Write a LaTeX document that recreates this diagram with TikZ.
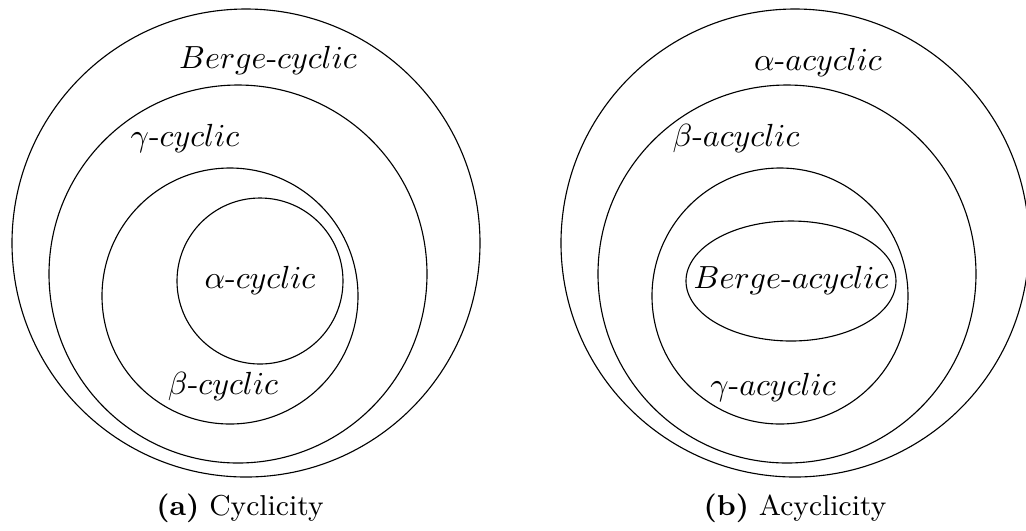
\documentclass[tikz,border=0pt]{standalone}
\usepackage{amsmath}
\usetikzlibrary{positioning}

\begin{document}
\begin{tikzpicture}[
  x=0.3125pt, y=-0.3125pt,
  set/.style={draw, line width=0.35pt},
  lbl/.style={inner sep=0pt, font=\normalsize},
  capt/.style={inner sep=0pt, font=\small}
]
\useasboundingbox (0,0) rectangle (1026,530);

% (a) cyclicity
\draw[set] (246,243) circle[radius=234];
\draw[set] (238,274) circle[radius=189];
\draw[set] (230,296) circle[radius=128];
\draw[set] (260,281) circle[radius=83];
\node[lbl] (bergec) at (268,60) {$Berge$-$cyclic$};
\node[lbl] (gammac) at (185,138) {$\gamma$-$cyclic$};
\node[lbl] (alphac) at (260,280) {$\alpha$-$cyclic$};
\node[lbl] (betac) at (223,386) {$\beta$-$cyclic$};
\node[capt] (capa) at (240,508) {\textbf{(a)} Cyclicity};

% (b) acyclicity
\draw[set] (795,243) circle[radius=234];
\draw[set] (787,274) circle[radius=189];
\draw[set] (780,296) circle[radius=128];
\draw[set] (791,281) circle[x radius=105, y radius=60];
\node[lbl] (alphaa) at (818,62) {$\alpha$-$acyclic$};
\node[lbl] (betaa) at (736,138) {$\beta$-$acyclic$};
\node[lbl] (bergea) at (791,280) {$Berge$-$acyclic$};
\node[lbl] (gammaa) at (773,387) {$\gamma$-$acyclic$};
\node[capt] (capb) at (795,508) {\textbf{(b)} Acyclicity};
\end{tikzpicture}
\end{document}
